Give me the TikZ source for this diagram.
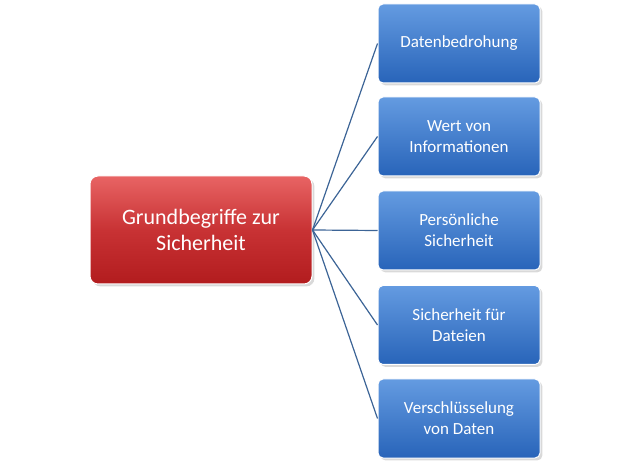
\documentclass[tikz,border=0pt]{standalone}
\usepackage{fontspec}
\setmainfont{Carlito}
\usetikzlibrary{shadows}
\begin{document}
\begin{tikzpicture}[x=1pt,y=-1pt,
  redbox/.style={draw=white,line width=1pt,rounded corners=8pt,top color=red!55!white!90!red,bottom color=red!70!black,
    middle color=red!80!black!90,minimum width=222pt,minimum height=108pt,text=white,font=\fontsize{22}{26}\selectfont,align=center,drop shadow={opacity=0.3}},
  bluebox/.style={draw=white,line width=1pt,rounded corners=5pt,top color=blue!40!cyan!60!black!70!white,bottom color=blue!50!cyan!50!black,
    minimum width=162pt,minimum height=79pt,text=white,font=\fontsize{17}{21}\selectfont,align=center,drop shadow={opacity=0.3}},
  conn/.style={draw=blue!40!cyan!40!black,line width=1.2pt}]
\useasboundingbox (0,0) rectangle (630,465);
\node[redbox,top color={rgb,255:red,232;green,100;blue,100},bottom color={rgb,255:red,178;green,28;blue,30},middle color={rgb,255:red,200;green,50;blue,52}] (g) at (201,230) {Grundbegriffe zur\\Sicherheit};
\tikzset{bb/.style={bluebox,top color={rgb,255:red,100;green,155;blue,225},bottom color={rgb,255:red,40;green,100;blue,185}}}
\node[bb] (b1) at (459,43.5) {Datenbedrohung};
\node[bb] (b2) at (459,136.5) {Wert von\\Informationen};
\node[bb] (b3) at (459,230.5) {Persönliche\\Sicherheit};
\node[bb] (b4) at (459,325) {Sicherheit für\\Dateien};
\node[bb] (b5) at (459,418.5) {Verschlüsselung\\von Daten};
\foreach \b in {b1,b2,b3,b4,b5} \draw[conn,draw={rgb,255:red,60;green,100;blue,150}] (g.east) -- (\b.west);
\end{tikzpicture}
\end{document}
